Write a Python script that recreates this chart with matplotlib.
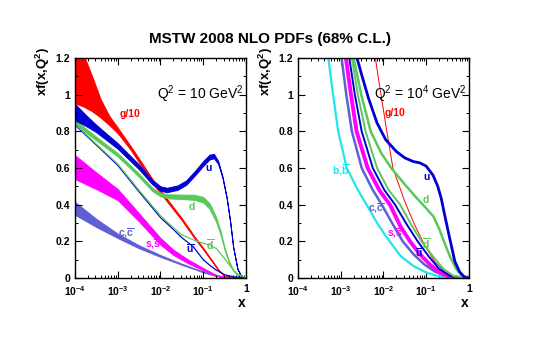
import numpy as np
import matplotlib
matplotlib.use('Agg')
import matplotlib.pyplot as plt
import matplotlib.transforms as mtransforms
from matplotlib.ticker import MultipleLocator, LogLocator, NullFormatter, FixedLocator, FixedFormatter

plt.rcParams.update({
    'font.family': ['Liberation Sans', 'DejaVu Sans'],
    'font.weight': 'bold',
    'mathtext.fontset': 'custom',
    'mathtext.rm': 'Liberation Sans:bold',
    'mathtext.bf': 'Liberation Sans:bold',
    'mathtext.it': 'Liberation Sans:bold',
    'mathtext.default': 'bf',
})

# colours of the partons
RED = '#ff0000'
UBLUE = '#0000d2'
GREEN = '#5ac85a'
MAGENTA = '#ff00ff'
SLATE = '#5f5fd4'
CYAN = '#22e4ec'

lx_g = [-4.0, -3.8, -3.6, -3.4, -3.2, -3.0, -2.7, -2.4, -2.1, -1.8, -1.5, -1.2, -1.0, -0.8, -0.65, -0.5, -0.3, 0.0]
g_hi = [1.36, 1.22, 1.10, 0.975, 0.885, 0.82, 0.72, 0.615, 0.508, 0.417, 0.326, 0.225, 0.164, 0.098, 0.047, 0.013, 0.002, 0.0]
g_lo = [0.953, 0.935, 0.91, 0.875, 0.835, 0.79, 0.70, 0.595, 0.492, 0.403, 0.314, 0.215, 0.156, 0.092, 0.043, 0.011, 0.001, 0.0]

lx_u = [-4.0, -3.75, -3.5, -3.0, -2.5, -2.2, -2.0, -1.85, -1.6, -1.4, -1.2, -1.0, -0.85, -0.75, -0.65, -0.55, -0.45, -0.37, -0.3, -0.2, -0.1, 0.0]
u_c = [0.905, 0.86, 0.815, 0.72, 0.605, 0.525, 0.488, 0.48, 0.493, 0.52, 0.57, 0.625, 0.66, 0.665, 0.63, 0.55, 0.435, 0.307, 0.17, 0.05, 0.005, 0.0]
u_w = [0.045, 0.03, 0.02, 0.015, 0.013, 0.012, 0.012, 0.012, 0.012, 0.012, 0.012, 0.013, 0.013, 0.012, 0.008, 0.005, 0.004, 0.003, 0.002, 0.001, 0.0, 0.0]

lx_d = [-4.0, -3.5, -3.0, -2.5, -2.2, -2.0, -1.8, -1.5, -1.2, -1.0, -0.85, -0.7, -0.6, -0.5, -0.4, -0.3, -0.15, 0.0]
d_c = [0.85, 0.76, 0.672, 0.56, 0.485, 0.455, 0.445, 0.443, 0.44, 0.427, 0.392, 0.32, 0.25, 0.16, 0.09, 0.042, 0.008, 0.0]
d_w = [0.012, 0.01, 0.009, 0.009, 0.009, 0.01, 0.011, 0.012, 0.014, 0.015, 0.015, 0.013, 0.01, 0.006, 0.004, 0.002, 0.001, 0.0]

lx_ub = [-4.0, -3.5, -3.0, -2.5, -2.0, -1.7, -1.5, -1.23, -1.0, -0.85, -0.7, -0.5, -0.3, 0.0]
ub = [0.835, 0.725, 0.615, 0.47, 0.33, 0.265, 0.22, 0.17, 0.10, 0.07, 0.044, 0.018, 0.007, 0.0]
lx_db = [-4.0, -3.5, -3.0, -2.5, -2.0, -1.7, -1.5, -1.2, -1.0, -0.85, -0.69, -0.55, -0.45, -0.3, -0.22, 0.0]
db = [0.84, 0.73, 0.622, 0.478, 0.34, 0.275, 0.235, 0.205, 0.19, 0.18, 0.16, 0.12, 0.09, 0.045, 0.025, 0.0]

lx_s = [-4.0, -3.5, -3.0, -2.5, -2.0, -1.7, -1.35, -1.0, -0.7, -0.4, 0.0]
s_c = [0.605, 0.53, 0.455, 0.33, 0.2, 0.14, 0.09, 0.048, 0.014, 0.002, 0.0]
s_w = [0.065, 0.045, 0.03, 0.022, 0.018, 0.014, 0.01, 0.006, 0.003, 0.001, 0.0]

lx_c = [-4.0, -3.5, -3.0, -2.5, -2.0, -1.5, -1.2, -1.0, -0.7, -0.45, -0.2, 0.0]
c_c = [0.38, 0.3, 0.23, 0.17, 0.12, 0.075, 0.05, 0.033, 0.012, 0.004, 0.0, 0.0]
c_w = [0.035, 0.022, 0.012, 0.008, 0.005, 0.003, 0.002, 0.002, 0.001, 0.001, 0.0, 0.0]

# ---------------- Q^2 = 10^4 GeV^2 (right): lines
lx_b4 = [-3.36, -3.29, -3.18, -3.06, -2.86, -2.6, -2.37, -2.15, -1.95, -1.6, -1.3, -1.0, -0.7, -0.4]
b4 = [1.32, 1.2, 1.0, 0.8, 0.6, 0.48, 0.39, 0.3, 0.23, 0.12, 0.065, 0.03, 0.008, 0.0]
lx_c4 = [-3.05, -2.98, -2.87, -2.74, -2.51, -2.25, -2.04, -1.8, -1.55, -1.3, -1.05, -0.8, -0.5, -0.25]
c4 = [1.32, 1.2, 1.0, 0.8, 0.6, 0.48, 0.4, 0.3, 0.2, 0.13, 0.075, 0.035, 0.008, 0.0]
lx_s4 = [-2.95, -2.88, -2.76, -2.63, -2.37, -2.1, -1.85, -1.6, -1.38, -1.15, -0.9, -0.65, -0.4, -0.15]
s4 = [1.32, 1.2, 1.0, 0.8, 0.6, 0.48, 0.4, 0.28, 0.2, 0.13, 0.07, 0.025, 0.004, 0.0]
lx_ub4 = [-2.87, -2.8, -2.67, -2.51, -2.25, -1.98, -1.73, -1.45, -1.2, -0.95, -0.7, -0.45, -0.2, 0.0]
ub4 = [1.32, 1.2, 1.0, 0.8, 0.6, 0.48, 0.4, 0.29, 0.2, 0.12, 0.05, 0.012, 0.001, 0.0]
lx_db4 = [-2.81, -2.74, -2.6, -2.42, -2.15, -1.88, -1.61, -1.35, -1.11, -0.85, -0.6, -0.35, -0.1, 0.0]
db4 = [1.32, 1.2, 1.0, 0.8, 0.6, 0.48, 0.4, 0.29, 0.2, 0.12, 0.05, 0.01, 0.001, 0.0]
lx_d4 = [-2.78, -2.7, -2.52, -2.3, -2.05, -1.82, -1.5, -1.2, -1.0, -0.83, -0.7, -0.57, -0.45, -0.3, -0.15, 0.0]
d4 = [1.32, 1.2, 1.0, 0.8, 0.68, 0.6, 0.51, 0.43, 0.38, 0.335, 0.27, 0.19, 0.12, 0.05, 0.008, 0.0]
lx_u4 = [-2.7, -2.62, -2.5, -2.35, -2.15, -1.95, -1.7, -1.5, -1.3, -1.15, -1.0, -0.84, -0.73, -0.65, -0.57, -0.45, -0.33, -0.22, -0.1, 0.0]
u4 = [1.3, 1.2, 1.1, 0.98, 0.845, 0.755, 0.69, 0.655, 0.635, 0.628, 0.61, 0.56, 0.5, 0.435, 0.345, 0.215, 0.09, 0.034, 0.003, 0.0]
lx_g4 = [-2.22, -2.19, -2.13, -1.95, -1.78, -1.5, -1.27, -1.04, -0.8, -0.57, -0.33, -0.15]
g4 = [1.25, 1.2, 1.107, 0.84, 0.6, 0.416, 0.289, 0.18, 0.089, 0.034, 0.007, 0.0]

xtick_pos = [1e-4, 1e-3, 1e-2, 1e-1, 1]
xtick_lab = ['$10^{-4}$', '$10^{-3}$', '$10^{-2}$', '$10^{-1}$', '']
ytick_pos = [0, 0.2, 0.4, 0.6, 0.8, 1.0, 1.2]
ytick_lab = ['0', '0.2', '0.4', '0.6', '0.8', '1', '1.2']


def X(lx):
    return 10.0 ** np.asarray(lx)


def band(ax, lx, c, w, color):
    c = np.asarray(c)
    w = np.asarray(w)
    ax.fill_between(X(lx), c - w, c + w, color=color, lw=0.7, edgecolor=color)


def style(ax, q2text):
    ax.set_xscale('log')
    ax.set_xlim(1e-4, 1)
    ax.set_ylim(0, 1.2)
    ax.xaxis.set_major_locator(FixedLocator(xtick_pos))
    ax.xaxis.set_major_formatter(FixedFormatter(xtick_lab))
    ax.xaxis.set_minor_locator(LogLocator(base=10, subs=np.arange(2, 10), numticks=20))
    ax.xaxis.set_minor_formatter(NullFormatter())
    ax.yaxis.set_minor_locator(MultipleLocator(0.1))
    ax.set_yticks(ytick_pos)
    ax.set_yticklabels(ytick_lab)
    ax.tick_params(which='both', direction='in', top=True, right=True, labelsize=7.5)
    ax.tick_params(which='major', length=5, width=0.8)
    ax.tick_params(which='minor', length=2.5, width=0.7)
    ax.tick_params(axis='x', pad=4.5)
    for lab in ax.get_xticklabels() + ax.get_yticklabels():
        lab.set_fontweight('bold')
    for sp in ax.spines.values():
        sp.set_linewidth(1.0)
    # the "1" at the end of the x axis sits a bit higher, as in ROOT
    tr = mtransforms.blended_transform_factory(ax.transData, ax.transAxes)
    ax.text(1, -0.048, '1', transform=tr, ha='center', va='center', fontsize=7.5,
            fontweight='bold')
    ax.set_ylabel('xf(x,Q$^{2}$)', fontsize=9.5, fontweight='bold', loc='top')
    ax.yaxis.set_label_coords(-0.135, 1.05)
    ax.set_xlabel('x', fontsize=10, fontweight='bold', loc='right')
    ax.xaxis.set_label_coords(1.0, -0.08)
    ax.text(0.985, 0.835, q2text, transform=ax.transAxes, ha='right', va='center',
            fontsize=10, fontweight='normal')


fig = plt.figure(figsize=(5.33, 3.5), dpi=100)
ax1 = fig.add_axes([0.1407, 0.2057, 0.3208, 0.6286])
ax2 = fig.add_axes([0.5591, 0.2057, 0.3208, 0.6286])

# left panel bands
ax1.fill_between(X(lx_g), g_lo, g_hi, color=RED, lw=0.7, edgecolor=RED)
band(ax1, lx_c, c_c, c_w, SLATE)
band(ax1, lx_s, s_c, s_w, MAGENTA)
ax1.plot(X(lx_ub), ub, color=UBLUE, lw=0.9)
ax1.plot(X(lx_db), db, color=GREEN, lw=0.9)
band(ax1, lx_d, d_c, d_w, GREEN)
band(ax1, lx_u, u_c, u_w, UBLUE)

ax1.text(1.94e-3, 0.895, 'g/10', color=RED, fontsize=7.5, ha='center', va='center')
ax1.text(0.136, 0.60, 'u', color=UBLUE, fontsize=7.5, ha='center', va='center')
ax1.text(0.055, 0.387, 'd', color=GREEN, fontsize=7.5, ha='center', va='center')
ax1.text(0.145, 0.18, r'$\overline{d}$', color=GREEN, fontsize=7.5, ha='center', va='center')
ax1.text(0.049, 0.16, r'$\overline{u}$', color=UBLUE, fontsize=7.5, ha='center', va='center')
ax1.text(6.7e-3, 0.185, r's,$\overline{s}$', color=MAGENTA, fontsize=7.5, ha='center', va='center')
ax1.text(1.6e-3, 0.245, r'c,$\overline{c}$', color=SLATE, fontsize=7.5, ha='center', va='center')
style(ax1, r'Q$\mathregular{^{2}}$ = 10 GeV$\mathregular{^{2}}$')

# right panel lines
ax2.plot(X(lx_g4), g4, color=RED, lw=0.7)
ax2.plot(X(lx_b4), b4, color=CYAN, lw=1.6)
ax2.plot(X(lx_c4), c4, color=SLATE, lw=1.8)
ax2.plot(X(lx_s4), s4, color=MAGENTA, lw=2.8)
ax2.plot(X(lx_ub4), ub4, color=UBLUE, lw=1.4)
ax2.plot(X(lx_db4), db4, color=GREEN, lw=1.4)
ax2.plot(X(lx_d4), d4, color=GREEN, lw=1.8)
ax2.plot(X(lx_u4), u4, color=UBLUE, lw=2.0)

ax2.text(0.0186, 0.9, 'g/10', color=RED, fontsize=7.5, ha='center', va='center')
ax2.text(0.10, 0.55, 'u', color=UBLUE, fontsize=7.5, ha='center', va='center')
ax2.text(0.10, 0.425, 'd', color=GREEN, fontsize=7.5, ha='center', va='center')
ax2.text(0.10, 0.19, r'$\overline{d}$', color=GREEN, fontsize=7.5, ha='center', va='center')
ax2.text(0.068, 0.14, r'$\overline{u}$', color=UBLUE, fontsize=7.5, ha='center', va='center')
ax2.text(0.0186, 0.245, r's,$\overline{s}$', color=MAGENTA, fontsize=7.5, ha='center', va='center')
ax2.text(6.6e-3, 0.38, r'c,$\overline{c}$', color=SLATE, fontsize=7.5, ha='center', va='center')
ax2.text(1.0e-3, 0.59, r'b,$\overline{b}$', color=CYAN, fontsize=7.5, ha='center', va='center')
style(ax2, r'Q$\mathregular{^{2}}$ = 10$\mathregular{^{4}}$ GeV$\mathregular{^{2}}$')

fig.text(0.506, 0.89, 'MSTW 2008 NLO PDFs (68% C.L.)', ha='center', va='center',
         fontsize=11, fontweight='bold')

fig.savefig('out.png', dpi=100)
